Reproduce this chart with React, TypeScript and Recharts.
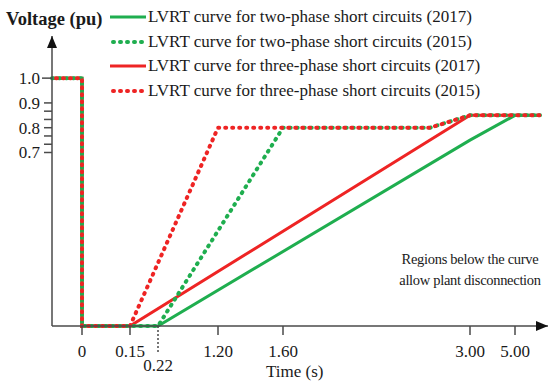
import React from 'react';
import { LineChart, Line, XAxis, YAxis } from 'recharts';

// tick values (time axis is broken, so labels sit at uneven spacing)
const tickTimes = [0, 0.15, 0.22, 1.2, 1.6, 3, 5];
const tickTimeLabels = ['0', '0.15', '0.22', '1.20', '1.60', '3.00', '5.00'];
const voltTicks = [0.7, 0.8, 0.9, 1.0];
const voltMinorTicks = [0.7333, 0.7667, 0.8333, 0.8667];

// piecewise time scale: time -> axis units
const timeStops = [-0.1, 0, 0.15, 0.22, 1.2, 1.6, 3, 5, 5.5];
const axisStops = [0, 30, 78, 106, 166, 231, 418, 463, 488];

// LVRT curves
const twoPhase2017Time = [-0.1, 0, 0, 0.22, 3, 5, 5.5];
const twoPhase2017Volt = [1, 1, 0, 0, 0.75, 0.85, 0.85];
const twoPhase2015Time = [-0.1, 0, 0, 0.22, 1.6, 2.7, 3, 5.5];
const twoPhase2015Volt = [1, 1, 0, 0, 0.8, 0.8, 0.85, 0.85];
const threePhase2017Time = [-0.1, 0, 0, 0.15, 3, 5.5];
const threePhase2017Volt = [1, 1, 0, 0, 0.85, 0.85];
const threePhase2015Time = [-0.1, 0, 0, 0.15, 1.2, 2.7, 3, 5.5];
const threePhase2015Volt = [1, 1, 0, 0, 0.8, 0.8, 0.85, 0.85];

const legendLabels = [
  'LVRT curve for two-phase short circuits (2017)',
  'LVRT curve for two-phase short circuits (2015)',
  'LVRT curve for three-phase short circuits (2017)',
  'LVRT curve for three-phase short circuits (2015)',
];

const GREEN = '#1fae4f';
const RED = '#ee2424';
const AXIS = '#4a4a4a';
const FONT = '"Liberation Serif", "Times New Roman", serif';
const DOTS = '1 6';

const W = 549;
const H = 388;
const PLOT_LEFT = 52;
const PLOT_BOTTOM = 326;

function timeToAxis(t: number) {
  for (let i = 1; i < timeStops.length; i++) {
    if (t <= timeStops[i]) {
      const t0 = timeStops[i - 1];
      const t1 = timeStops[i];
      const f = t1 === t0 ? 0 : (t - t0) / (t1 - t0);
      return axisStops[i - 1] + f * (axisStops[i] - axisStops[i - 1]);
    }
  }
  return axisStops[axisStops.length - 1];
}

const toPoints = (times: number[], volts: number[]) =>
  times.map((t, i) => ({ u: timeToAxis(t), v: volts[i] }));

const xTicks = tickTimes.map(timeToAxis);

const XTick = (props: any) => {
  const { x, payload } = props;
  const idx = xTicks.findIndex((u) => Math.abs(u - payload.value) < 0.01);
  const label = tickTimeLabels[idx];
  const low = label === '0.22';
  return (
    <g>
      <line
        x1={x}
        x2={x}
        y1={PLOT_BOTTOM}
        y2={low ? PLOT_BOTTOM + 28 : PLOT_BOTTOM + 9}
        stroke={AXIS}
        strokeWidth={1.5}
        strokeDasharray={low ? '2 2' : undefined}
      />
      <text
        x={x}
        y={low ? PLOT_BOTTOM + 39 : PLOT_BOTTOM + 25}
        dy="0.35em"
        textAnchor="middle"
        fontFamily={FONT}
        fontSize={17}
        fill="#1a1a1a"
      >
        {label}
      </text>
    </g>
  );
};

const YTick = (props: any) => {
  const { y, payload } = props;
  const v = payload.value;
  const major = voltTicks.some((t) => Math.abs(t - v) < 0.001);
  const len = v === 1 ? 10 : 8;
  return (
    <g>
      <line x1={PLOT_LEFT - len} x2={PLOT_LEFT} y1={y} y2={y} stroke={AXIS} strokeWidth={1.5} />
      {major && (
        <text
          x={PLOT_LEFT - 12}
          y={y}
          dy="0.35em"
          textAnchor="end"
          fontFamily={FONT}
          fontSize={17}
          fill="#1a1a1a"
        >
          {v.toFixed(1)}
        </text>
      )}
    </g>
  );
};

const LegendSample = ({ color, dotted }: { color: string; dotted: boolean }) => (
  <svg width={36} height={8} style={{ display: 'block' }}>
    <line
      x1={dotted ? 3 : 0}
      x2={dotted ? 33 : 36}
      y1={4}
      y2={4}
      stroke={color}
      strokeWidth={dotted ? 4 : 3}
      strokeLinecap={dotted ? 'round' : 'butt'}
      strokeDasharray={dotted ? DOTS : undefined}
    />
  </svg>
);

export default function App() {
  const legendStyles = [
    { color: GREEN, dotted: false },
    { color: GREEN, dotted: true },
    { color: RED, dotted: false },
    { color: RED, dotted: true },
  ];
  return (
    <div style={{ position: 'relative', width: W, height: H, background: '#fff', fontFamily: FONT }}>
      <style>{'body{margin:0}'}</style>
      <LineChart width={W} height={H} margin={{ top: 36, right: 1, bottom: 0, left: 0 }}>
        <defs>
          <marker
            id="axisArrow"
            viewBox="0 0 12 10"
            refX={12}
            refY={5}
            markerWidth={12}
            markerHeight={10}
            markerUnits="userSpaceOnUse"
            orient="auto-start-reverse"
          >
            <path d="M0,0 L12,5 L0,10 z" fill="#111" />
          </marker>
        </defs>
        <XAxis
          dataKey="u"
          type="number"
          domain={[0, 496]}
          ticks={xTicks}
          interval={0}
          height={62}
          tickLine={false}
          tickSize={0}
          axisLine={{ stroke: AXIS, strokeWidth: 1.5, markerEnd: 'url(#axisArrow)' }}
          tick={<XTick />}
        />
        <YAxis
          type="number"
          domain={[0, 1.17]}
          ticks={[...voltTicks, ...voltMinorTicks].sort((a, b) => a - b)}
          interval={0}
          width={52}
          tickLine={false}
          tickSize={0}
          axisLine={{ stroke: AXIS, strokeWidth: 1.5, markerStart: 'url(#axisArrow)' }}
          tick={<YTick />}
        />
        <Line
          data={toPoints(threePhase2017Time, threePhase2017Volt)}
          dataKey="v"
          type="linear"
          stroke={RED}
          strokeWidth={3}
          dot={false}
          isAnimationActive={false}
        />
        <Line
          data={toPoints(twoPhase2017Time, twoPhase2017Volt)}
          dataKey="v"
          type="linear"
          stroke={GREEN}
          strokeWidth={3}
          dot={false}
          isAnimationActive={false}
        />
        <Line
          data={toPoints(twoPhase2015Time, twoPhase2015Volt)}
          dataKey="v"
          type="linear"
          stroke={GREEN}
          strokeWidth={4}
          strokeLinecap="round"
          strokeDasharray={DOTS}
          dot={false}
          isAnimationActive={false}
        />
        <Line
          data={toPoints(threePhase2015Time, threePhase2015Volt)}
          dataKey="v"
          type="linear"
          stroke={RED}
          strokeWidth={4}
          strokeLinecap="round"
          strokeDasharray={DOTS}
          strokeDashoffset={3}
          dot={false}
          isAnimationActive={false}
        />
      </LineChart>

      <div style={{ position: 'absolute', left: 6, top: 9, fontSize: 18.5, fontWeight: 'bold', color: '#1a1a1a' }}>
        Voltage (pu)
      </div>
      {legendLabels.map((label, i) => (
        <div
          key={label}
          style={{
            position: 'absolute',
            left: 110,
            top: 17 + i * 24.5 - 11,
            height: 22,
            display: 'flex',
            alignItems: 'center',
            fontSize: 17,
            color: '#1a1a1a',
            whiteSpace: 'nowrap',
          }}
        >
          <LegendSample color={legendStyles[i].color} dotted={legendStyles[i].dotted} />
          <span style={{ marginLeft: 2 }}>{label}</span>
        </div>
      ))}
      <div
        style={{
          position: 'absolute',
          left: 390,
          top: 249,
          width: 160,
          textAlign: 'center',
          fontSize: 14.5,
          letterSpacing: -0.3,
          lineHeight: '21px',
          color: '#1a1a1a',
          whiteSpace: 'nowrap',
        }}
      >
        Regions below the curve
        <br />
        allow plant disconnection
      </div>
      <div style={{ position: 'absolute', left: 266, top: 362, fontSize: 17, color: '#1a1a1a' }}>Time (s)</div>
    </div>
  );
}
